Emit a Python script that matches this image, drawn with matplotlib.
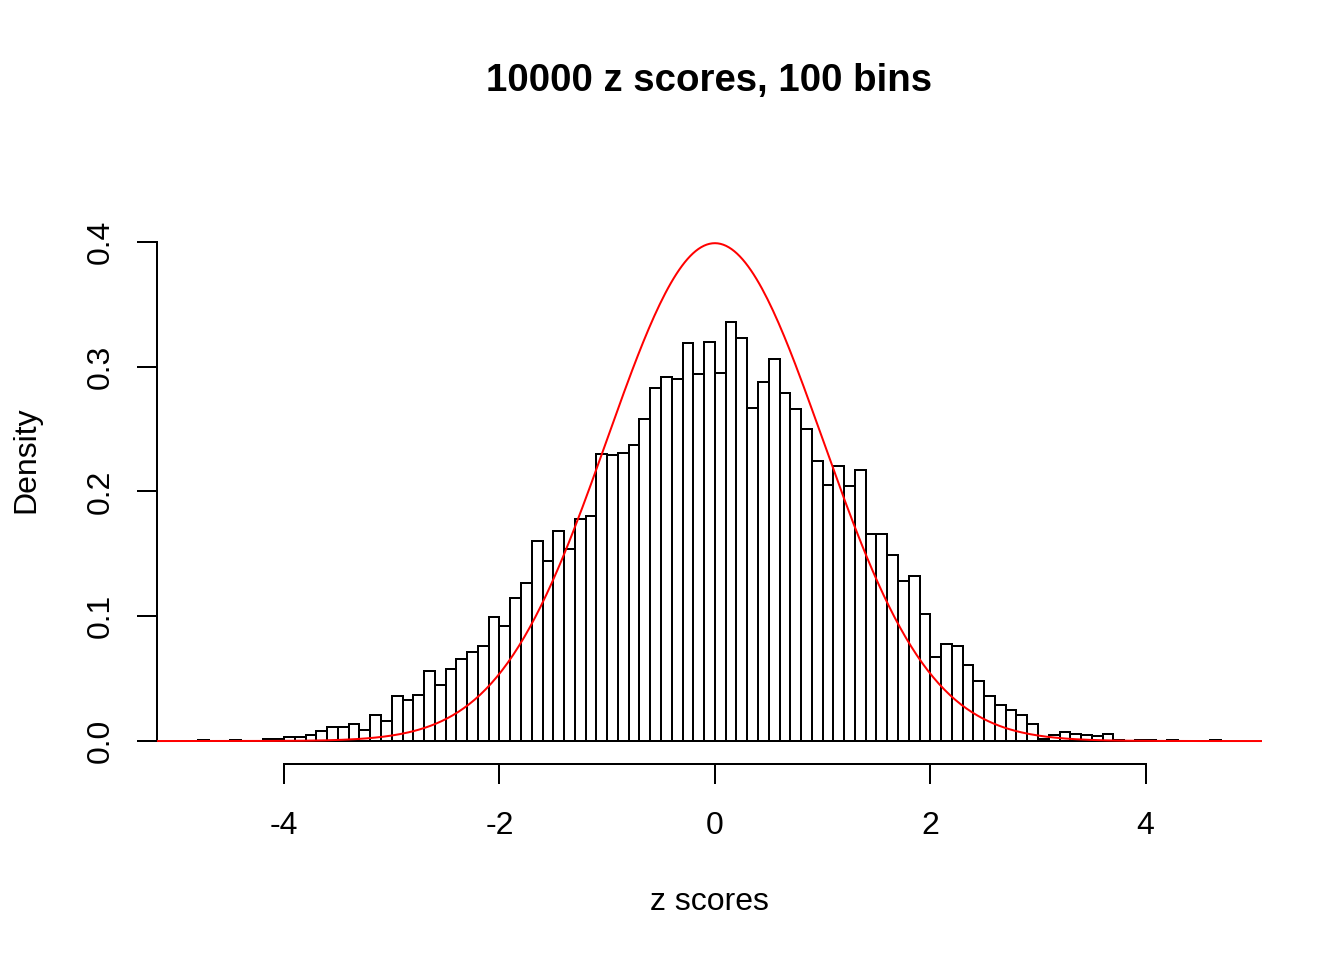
import numpy as np
import matplotlib
matplotlib.use("Agg")
import matplotlib.pyplot as plt

plt.rcParams['font.family'] = ['Liberation Sans', 'DejaVu Sans']

# ---- data ----
title = "10000 z scores, 100 bins"
x_label = "z scores"
y_label = "Density"
n_total = 10000
bin_width = 0.1
bin_first_left = -4.8
# counts per bin, from [-4.8,-4.7) up to [4.6,4.7)
counts = [
    1, 0, 0, 1, 0, 0, 2, 2, 3, 3,
    5, 8, 11, 11, 14, 9, 21, 16, 36, 33,
    37, 56, 45, 58, 66, 71, 76, 99, 92, 115,
    127, 160, 144, 168, 154, 178, 180, 230, 229, 231,
    237, 258, 283, 292, 290, 319, 294, 320, 295, 336,
    323, 267, 288, 306, 279, 266, 250, 224, 205, 220,
    204, 217, 166, 166, 149, 128, 132, 102, 67, 78,
    76, 61, 48, 36, 29, 25, 21, 14, 2, 5,
    7, 6, 5, 4, 6, 1, 0, 1, 1, 0,
    1, 0, 0, 0, 1,
]
x_ticks = [-4, -2, 0, 2, 4]
x_tick_labels = ["-4", "-2", "0", "2", "4"]
y_ticks = [0.0, 0.1, 0.2, 0.3, 0.4]
y_tick_labels = ["0.0", "0.1", "0.2", "0.3", "0.4"]

counts = np.array(counts, dtype=float)
lefts = bin_first_left + bin_width * np.arange(len(counts))
density = counts / (n_total * bin_width)

W, H, DPI = 1344, 960, 192
fig = plt.figure(figsize=(W / DPI, H / DPI), dpi=DPI)
fig.patch.set_facecolor("white")

L, R, T, B = 157, 1262, 157, 763.5
ax = fig.add_axes([L / W, 1 - B / H, (R - L) / W, (B - T) / H])

lw = 0.75
ax.bar(lefts, density, width=bin_width, align='edge', color='white',
       edgecolor='black', linewidth=lw, zorder=2)

xmin, xmax = -5.18, 5.08
ax.set_xlim(xmin, xmax)
ax.set_ylim(-0.018, 0.468)

# standard normal density curve
xs = np.linspace(xmin, xmax, 401)
ax.plot(xs, np.exp(-xs ** 2 / 2) / np.sqrt(2 * np.pi), color='red',
        linewidth=lw, zorder=3)

for s in ['top', 'right']:
    ax.spines[s].set_visible(False)
ax.spines['left'].set_bounds(0, 0.4)
ax.spines['bottom'].set_bounds(-4, 4)
ax.spines['left'].set_linewidth(lw)
ax.spines['bottom'].set_linewidth(lw)

ax.set_xticks(x_ticks)
ax.set_xticklabels(x_tick_labels, fontsize=12)
ax.set_yticks(y_ticks)
ax.set_yticklabels(y_tick_labels, fontsize=12, rotation=90, va='center')
ax.tick_params(axis='both', direction='out', length=7.5, width=lw)
ax.tick_params(axis='x', pad=10.5)
ax.tick_params(axis='y', pad=8)

fig.text((L + R) / 2 / W, 1 - 81 / H, title, ha='center', va='center',
         fontsize=14.4, fontweight='bold')
fig.text((L + R) / 2 / W, 1 - 902 / H, x_label, ha='center', va='center',
         fontsize=12)
fig.text(26 / W, 1 - 460 / H, y_label, ha='center', va='center',
         fontsize=12, rotation=90)

fig.savefig("out.png", dpi=DPI, facecolor='white')
